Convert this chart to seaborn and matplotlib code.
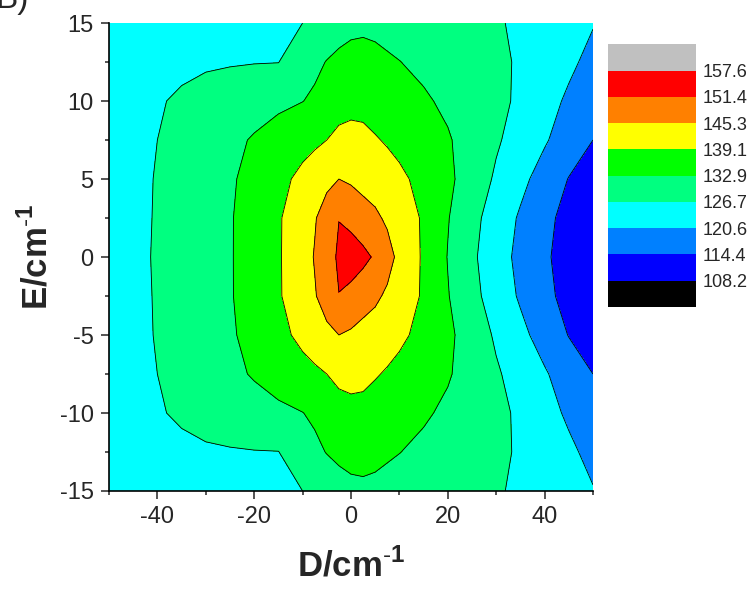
import numpy as np
import matplotlib
matplotlib.use('Agg')
import matplotlib.pyplot as plt
import seaborn as sns
from matplotlib.colors import ListedColormap, BoundaryNorm
from matplotlib.cm import ScalarMappable
from matplotlib.ticker import MultipleLocator

# grid: columns = D, rows = E
d_vals = [-50, -45, -40, -35, -30, -25, -20, -15, -10, -7.5, -5, -2.5, 0,
          2.5, 5, 7.5, 10, 15, 20, 25, 30, 35, 40, 45, 50]
e_vals = [-15, -12.5, -10, -7.5, -5, -2.5, 0, 2.5, 5, 7.5, 10, 12.5, 15]

z_e_p150 = [122.0, 122.8, 123.5, 124.2, 124.8, 125.3, 125.7, 126.1, 126.7, 128.0, 129.3, 130.5, 131.3,
            131.5, 131.4, 131.1, 130.7, 130.0, 129.2, 128.3, 127.3, 125.7, 124.1, 122.5, 120.9]
z_e_p125 = [123.5, 124.3, 125.0, 125.7, 126.1, 126.3, 126.5, 126.6, 130.0, 131.7, 133.1, 134.2, 135.0,
            135.3, 134.5, 133.6, 133.0, 131.7, 130.3, 129.0, 127.6, 126.2, 123.8, 121.7, 119.0]
z_e_p100 = [124.1, 125.2, 126.3, 127.35, 128.4, 129.5, 130.6, 131.7, 132.8, 133.8, 134.9, 136.0, 137.1,
            137.4, 136.8, 136.0, 135.2, 133.6, 131.9, 129.9, 127.9, 125.9, 122.7, 119.7, 116.5]
z_e_p075 = [123.4, 125.05, 126.7, 128.35, 130.0, 131.6, 133.4, 135.3, 137.2, 138.1, 139.1, 141.0, 141.2,
            140.5, 139.5, 138.6, 137.6, 135.5, 133.4, 130.6, 127.4, 124.3, 121.2, 117.7, 114.4]
z_e_p050 = [123.6, 125.3, 127.0, 128.8, 130.5, 132.2, 134.7, 137.5, 140.5, 142.0, 144.0, 145.3, 144.5,
            143.6, 143.0, 141.3, 140.2, 137.5, 134.1, 130.1, 125.9, 122.1, 118.2, 114.2, 111.5]
z_e_p025 = [123.6, 125.3, 127.1, 128.9, 130.7, 132.5, 135.3, 138.5, 142.7, 144.9, 147.7, 151.3, 149.6,
            147.5, 146.2, 144.5, 142.5, 138.4, 133.2, 128.4, 124.0, 119.9, 115.7, 112.8, 110.5]
z_e_0 = [124.0, 125.4, 127.2, 129.0, 130.8, 132.5, 135.4, 138.5, 143.1, 145.6, 148.8, 152.3, 154.5,
         153.0, 150.6, 147.2, 144.0, 138.3, 132.7, 127.7, 123.2, 119.1, 115.2, 112.2, 109.5]
z_e_m025 = [123.6, 125.3, 127.1, 128.9, 130.7, 132.5, 135.3, 138.5, 142.7, 144.9, 147.7, 151.3, 149.6,
            147.5, 146.2, 144.5, 142.5, 138.4, 133.2, 128.4, 124.0, 119.9, 115.7, 112.8, 110.5]
z_e_m050 = [123.6, 125.3, 127.0, 128.8, 130.5, 132.2, 134.7, 137.5, 140.5, 142.0, 144.0, 145.3, 144.5,
            143.6, 143.0, 141.3, 140.2, 137.5, 134.1, 130.1, 125.9, 122.1, 118.2, 114.2, 111.5]
z_e_m075 = [123.4, 125.05, 126.7, 128.35, 130.0, 131.6, 133.4, 135.3, 137.2, 138.1, 139.1, 141.0, 141.2,
            140.5, 139.5, 138.6, 137.6, 135.5, 133.4, 130.6, 127.4, 124.3, 121.2, 117.7, 114.4]
z_e_m100 = [124.1, 125.2, 126.3, 127.35, 128.4, 129.5, 130.6, 131.7, 132.8, 133.8, 134.9, 136.0, 137.1,
            137.4, 136.8, 136.0, 135.2, 133.6, 131.9, 129.9, 127.9, 125.9, 122.7, 119.7, 116.5]
z_e_m125 = [123.5, 124.3, 125.0, 125.7, 126.1, 126.3, 126.5, 126.6, 130.0, 131.7, 133.1, 134.2, 135.0,
            135.3, 134.5, 133.6, 133.0, 131.7, 130.3, 129.0, 127.6, 126.2, 123.8, 121.7, 119.0]
z_e_m150 = [122.0, 122.8, 123.5, 124.2, 124.8, 125.3, 125.7, 126.1, 126.7, 128.0, 129.3, 130.5, 131.3,
            131.5, 131.4, 131.1, 130.7, 130.0, 129.2, 128.3, 127.3, 125.7, 124.1, 122.5, 120.9]

levels = [108.2, 114.4, 120.6, 126.7, 132.9, 139.1, 145.3, 151.4, 157.6]
level_labels = ['108.2', '114.4', '120.6', '126.7', '132.9', '139.1', '145.3', '151.4', '157.6']
level_colors = ['#000000', '#0000FF', '#0080FF', '#00FFFF', '#00FF80',
                '#00FF00', '#FFFF00', '#FF8000', '#FF0000', '#C0C0C0']

sns.set_style('ticks')
plt.rcParams['font.family'] = ['Liberation Sans', 'DejaVu Sans']
plt.rcParams['axes.unicode_minus'] = False
plt.rcParams['mathtext.fontset'] = 'custom'
plt.rcParams['mathtext.rm'] = 'Liberation Sans'
plt.rcParams['mathtext.bf'] = 'Liberation Sans:bold'

Z = np.array([z_e_m150, z_e_m125, z_e_m100, z_e_m075, z_e_m050, z_e_m025, z_e_0,
              z_e_p025, z_e_p050, z_e_p075, z_e_p100, z_e_p125, z_e_p150])

fig = plt.figure(figsize=(7.49, 5.90), dpi=100)
ax = fig.add_axes([0.1455, 0.1678, 0.6462, 0.7932])

fill_bounds = [90] + levels + [180]
ax.contourf(d_vals, e_vals, Z, levels=fill_bounds, colors=level_colors)
ax.contour(d_vals, e_vals, Z, levels=levels, colors='black', linewidths=0.6)

ax.set_xlim(-50, 50)
ax.set_ylim(-15, 15)
ax.xaxis.set_major_locator(MultipleLocator(20))
ax.xaxis.set_minor_locator(MultipleLocator(10))
ax.yaxis.set_major_locator(MultipleLocator(5))
ax.yaxis.set_minor_locator(MultipleLocator(2.5))
ax.tick_params(which='major', direction='out', length=6, width=1.1, labelsize=17, pad=5)
ax.tick_params(which='minor', direction='out', length=3, width=1.1)
for s in ['top', 'right']:
    ax.spines[s].set_visible(False)
for s in ['left', 'bottom']:
    ax.spines[s].set_linewidth(1.2)
    ax.spines[s].set_color('black')

ax.set_xlabel(r'D/cm$^{\mathbf{\text{-}1}}$', fontsize=25, fontweight='bold', labelpad=14)
ax.set_ylabel(r'E/cm$^{\mathbf{\text{-}1}}$', fontsize=25, fontweight='bold', labelpad=4)

# legend boxes (Origin style)
cax = fig.add_axes([0.812, 0.480, 0.117, 0.445])
cmap = ListedColormap(level_colors)
cb_bounds = [102.0] + levels + [163.8]
norm = BoundaryNorm(cb_bounds, cmap.N)
cb = fig.colorbar(ScalarMappable(norm=norm, cmap=cmap), cax=cax,
                  boundaries=cb_bounds, ticks=levels, spacing='uniform')
cb.outline.set_visible(False)
cb.set_ticklabels(level_labels)
cax.minorticks_off()
cax.tick_params(which='both', length=0, labelsize=13, pad=5)

fig.text(-0.006, 0.986, 'B)', fontsize=24, ha='left', va='baseline')

fig.savefig('out.png', dpi=100)
